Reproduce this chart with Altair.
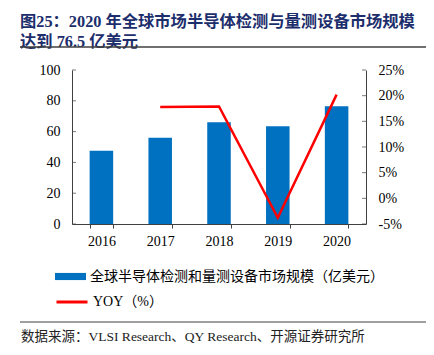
import altair as alt
import pandas as pd

years = ["2016", "2017", "2018", "2019", "2020"]
market = [47.5, 56.0, 66.0, 63.5, 76.5]
yoy = [None, 17.8, 17.9, -3.8, 20.2]
left_ticks = [0, 20, 40, 60, 80, 100]
right_ticks = [-5, 0, 5, 10, 15, 20, 25]
title_lines = ["图25：2020 年全球市场半导体检测与量测设备市场规模", "达到 76.5 亿美元"]
bar_label = "全球半导体检测和量测设备市场规模（亿美元）"
line_label = "YOY（%）"
source_text = "数据来源：VLSI Research、QY Research、开源证券研究所"

df = pd.DataFrame({"year": years, "market": market, "yoy": yoy,
                   "s1": [bar_label] * 5, "s2": [line_label] * 5})
lt = pd.DataFrame({"v": left_ticks})
rt = pd.DataFrame({"v": right_ticks})
one = pd.DataFrame({"a": [0]})

FONT = "Liberation Serif, Noto Sans CJK SC"
AX = "#404040"
BLUE = "#0070C0"
RED = "#FF0000"

x_enc = alt.X("year:N", sort=years, title=None,
              scale=alt.Scale(paddingInner=0.6, paddingOuter=0.3),
              axis=alt.Axis(labelAngle=0, tickBand="extent", tickSize=4, labelPadding=6,
                            domainColor=AX, tickColor=AX, labelFont=FONT, labelFontSize=14,
                            labelColor="black"))

bars = alt.Chart(df).mark_bar().encode(
    x=x_enc,
    y=alt.Y("market:Q", title=None, scale=alt.Scale(domain=[0, 100]),
            axis=alt.Axis(orient="left", values=left_ticks, ticks=False, labelPadding=12,
                          domainColor=AX, grid=False,
                          labelFont=FONT, labelFontSize=14, labelColor="black")),
    fill=alt.Fill("s1:N", scale=alt.Scale(range=[BLUE]),
                  legend=alt.Legend(title=None, orient="none", legendX=-17, legendY=191,
                                    symbolType="M-1,-0.23H1V0.23H-1Z", symbolSize=961,
                                    symbolStrokeWidth=0, labelFont=FONT, labelFontSize=14,
                                    labelOffset=4, padding=0, labelColor="black",
                                    labelLimit=0)),
)

line = alt.Chart(df).mark_line(strokeWidth=2.5).encode(
    x=x_enc,
    y=alt.Y("yoy:Q", title=None, scale=alt.Scale(domain=[-5, 25]),
            axis=alt.Axis(orient="right", values=right_ticks, ticks=False, labelPadding=12,
                          domainColor=AX, grid=False,
                          labelExpr="datum.value + '%'",
                          labelFont=FONT, labelFontSize=14, labelColor="black")),
    stroke=alt.Stroke("s2:N", scale=alt.Scale(range=[RED]),
                      legend=alt.Legend(title=None, orient="none", legendX=-17, legendY=215,
                                        symbolType="stroke", symbolSize=961,
                                        symbolStrokeWidth=3, labelFont=FONT, labelFontSize=14,
                                        labelOffset=4, padding=0, labelColor="black",
                                        labelLimit=0)),
)

# inward tick marks on both value axes
lticks = alt.Chart(lt).mark_tick(size=4, thickness=1, color=AX).encode(
    y=alt.Y("v:Q", scale=alt.Scale(domain=[0, 100]), axis=None),
    x=alt.value(2))
rticks = alt.Chart(rt).mark_tick(size=4, thickness=1, color=AX).encode(
    y=alt.Y("v:Q", scale=alt.Scale(domain=[-5, 25]), axis=None),
    x=alt.value(292))

title = alt.Chart(one).mark_text(align="left", baseline="middle", font=FONT, fontSize=16.3,
                                 fontWeight="bold", color="#1c2e6c", lineHeight=20).encode(
    x=alt.value(-52), y=alt.value(-48), text=alt.value(title_lines))

title_rule = alt.Chart(one).mark_rule(color="#404040", strokeWidth=1.5).encode(
    x=alt.value(-52), x2=alt.value(358), y=alt.value(-23))

foot_rule = alt.Chart(one).mark_rule(color="#404040", strokeWidth=1.2).encode(
    x=alt.value(-52), x2=alt.value(358), y=alt.value(252))

foot = alt.Chart(one).mark_text(align="left", baseline="middle", font=FONT, fontSize=13.5,
                                color="#222222").encode(
    x=alt.value(-51), y=alt.value(267), text=alt.value(source_text))

chart = alt.layer(bars, line, lticks, rticks, title, title_rule, foot_rule, foot).resolve_scale(
    y="independent", fill="independent", stroke="independent"
).properties(
    width=294, height=154, autosize="none",
    padding={"left": 64, "top": 62, "right": 60, "bottom": 123},
).configure_view(stroke=None)

chart.save("out.html", embed_options={"renderer": "svg", "actions": False})
